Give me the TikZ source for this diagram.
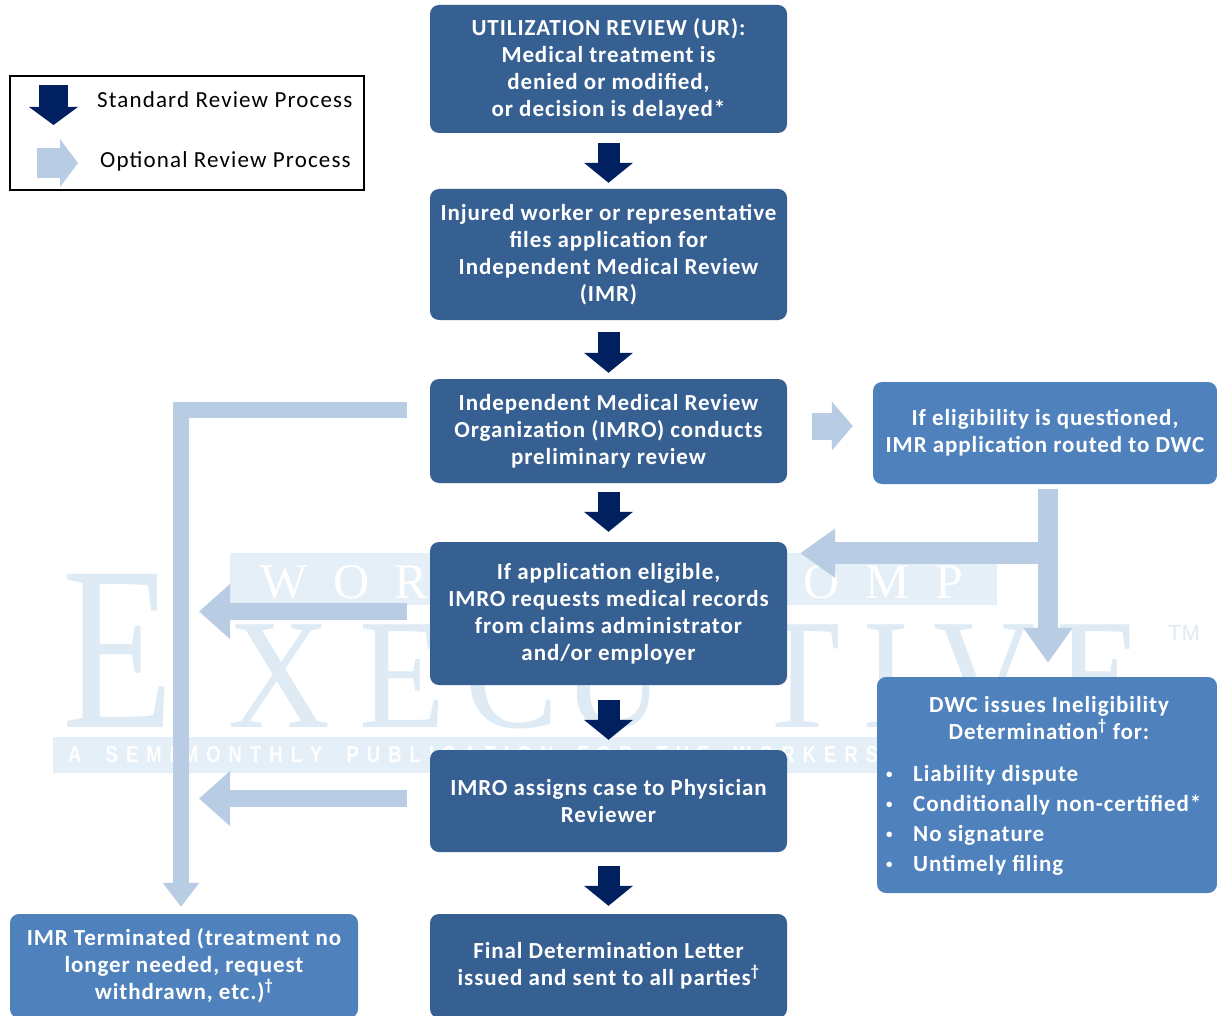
\documentclass[tikz,border=0pt]{standalone}
\usepackage{fontspec}
\setmainfont{Carlito}[LetterSpace=4]
\newfontfamily\legfont{Carlito}[LetterSpace=5]
\newfontfamily\wmserif{Liberation Serif}
\newfontfamily\wmsans{Liberation Sans}
\usetikzlibrary{arrows.meta,calc}
\definecolor{boxdark}{RGB}{54,95,146}
\definecolor{boxmid}{RGB}{79,129,189}
\definecolor{navyarr}{RGB}{0,32,96}
\definecolor{lightarr}{RGB}{184,204,228}
\definecolor{wmband}{RGB}{228,239,247}
\definecolor{wmletter}{RGB}{222,235,245}
\newcommand\dwcbullet{\raisebox{3pt}{\fontsize{13}{13}\selectfont\textbullet}}
\tikzset{
  box/.style={rounded corners=9pt, inner sep=0pt, align=center, text=white,
    font=\fontsize{23}{27}\selectfont\bfseries},
  darkbox/.style={box, fill=boxdark, minimum width=357pt},
  midbox/.style={box, fill=boxmid},
  stdarrow/.style={draw=navyarr, line width=22pt, -{Triangle[length=20pt,width=48pt]}},
  optarrow/.style={draw=lightarr},
  boxtext/.style={inner sep=0pt, text=white, font=\fontsize{23}{27}\selectfont\bfseries},
  wmbig/.style={anchor=base, inner sep=0pt, text=wmletter, xscale=0.9,
    font=\wmserif\fontsize{157}{157}\selectfont},
}
\begin{document}
\begin{tikzpicture}[x=1pt, y=-1pt]
\useasboundingbox (0,0) rectangle (1217,1016);
\fill[white] (0,0) rectangle (1217,1016);

% ---------- watermark ----------
\fill[wmband] (230,553) rectangle (997,605);
\node[anchor=base west, inner sep=0pt, text=white, font=\wmserif\fontsize{50}{50}\selectfont] (wmtop) at (260,598)
  {\makebox[703pt][s]{W\hfil O\hfil R\hfil K\hfil E\hfil R\hfil S\hfil '\hfil\hfil C\hfil O\hfil M\hfil P}};
\node[anchor=base, inner sep=0pt, text=wmletter, xscale=0.78, font=\wmserif\fontsize{234}{234}\selectfont] (wmE) at (118,727) {E};
\foreach \c/\x [count=\i] in {X/280,E/403,C/512,U/614,T/798,I/886,V/985,E/1100}
  \node[wmbig] (wmL\i) at (\x,727) {\c};
\node[anchor=base west, inner sep=0pt, text=wmletter, font=\wmsans\fontsize{22}{22}\selectfont] (wmtm) at (1168,640) {TM};
\fill[wmband] (53,737) rectangle (1207,773);
\node[anchor=base west, inner sep=0pt, text=white, xscale=0.8, font=\wmsans\bfseries\fontsize{23}{23}\selectfont] (wmbot) at (68,762)
  {\makebox[1399pt][s]{A\hfil\hfil\hfil S\hfil E\hfil M\hfil I\hfil M\hfil O\hfil N\hfil T\hfil H\hfil L\hfil Y\hfil\hfil\hfil
   P\hfil U\hfil B\hfil L\hfil I\hfil C\hfil A\hfil T\hfil I\hfil O\hfil N\hfil\hfil\hfil F\hfil O\hfil R\hfil\hfil\hfil
   T\hfil H\hfil E\hfil\hfil\hfil W\hfil O\hfil R\hfil K\hfil E\hfil R\hfil S\hfil '\hfil\hfil\hfil C\hfil O\hfil M\hfil P\hfil\hfil\hfil
   E\hfil X\hfil E\hfil C\hfil U\hfil T\hfil I\hfil V\hfil E}};

% ---------- boxes ----------
\node[darkbox, minimum height=128pt] (ur) at (608.5,69)
  {UTILIZATION REVIEW (UR):\\Medical treatment is\\denied or modified,\\or decision is delayed*};
\node[darkbox, minimum height=131pt] (app) at (608.5,254.5)
  {Injured worker or representative\\files application for\\Independent Medical Review\\(IMR)};
\node[darkbox, minimum height=104pt] (imro) at (608.5,431)
  {Independent Medical Review\\Organization (IMRO) conducts\\preliminary review};
\node[darkbox, minimum height=143pt] (rec) at (608.5,613.5)
  {If application eligible,\\IMRO requests medical records\\from claims administrator\\and/or employer};
\node[darkbox, minimum height=102pt] (phys) at (608.5,801)
  {IMRO assigns case to Physician\\Reviewer};
\node[darkbox, minimum height=104pt] (final) at (608.5,966)
  {Final Determination Letter\\issued and sent to all parties\textsuperscript{†}};
\node[midbox, minimum width=348pt, minimum height=104pt] (term) at (184,966)
  {IMR Terminated (treatment no\\longer needed, request\\withdrawn, etc.)\textsuperscript{†}};
\node[midbox, minimum width=344pt, minimum height=102pt] (elig) at (1045,433)
  {If eligibility is questioned,\\IMR application routed to DWC};
\node[midbox, minimum width=340pt, minimum height=216pt] (dwc) at (1047,785) {};
\node[boxtext, align=center] (dwchead) at (1049,718)
  {DWC issues Ineligibility\\Determination\textsuperscript{†} for:};
\foreach \t [count=\i] in {Liability dispute, Conditionally non-certified*, No signature, Untimely filing}
  \node[boxtext, anchor=base west] (dwcb\i) at (886,751+30*\i) {\makebox[27pt][l]{\dwcbullet}\t};

% ---------- optional (light) arrows ----------
\draw[optarrow, line width=27pt, -{Triangle[length=21pt,width=48pt]}, shorten <=25pt, shorten >=20pt]
  ([yshift=5pt]imro.east) -- ([yshift=5pt]imro.east -| elig.west);
\draw[optarrow, line width=20pt, -{Triangle[length=35pt,width=47pt]}, shorten <=5pt, shorten >=14pt]
  ([xshift=3pt]elig.south) -- ([xshift=3pt]elig.south |- dwc.north);
\coordinate (jn) at ([xshift=3pt,yshift=-69pt]elig.south);
\draw[optarrow, line width=22pt, -{Triangle[length=35pt,width=47pt]}, shorten >=13pt]
  (jn) -- (jn -| rec.east);
\coordinate (lc) at (181,410);
\draw[optarrow, line width=16pt, -{Triangle[length=24pt,width=35pt]}, shorten <=23pt, shorten >=7pt]
  ([yshift=21pt]imro.west) -- (lc) -- (lc |- term.north);
\draw[optarrow, line width=17pt, -{Triangle[length=31pt,width=53pt]}, shorten <=23pt, shorten >=18pt]
  ([yshift=2pt]rec.west) -- ([yshift=2pt]rec.west -| lc);
\draw[optarrow, line width=17pt, -{Triangle[length=31pt,width=53pt]}, shorten <=23pt, shorten >=18pt]
  ([yshift=2.5pt]phys.west) -- ([yshift=2.5pt]phys.west -| lc);

% ---------- standard (dark) arrows ----------
\draw[stdarrow, shorten <=10pt, shorten >=6pt] (ur) -- (app);
\draw[stdarrow, shorten <=12pt, shorten >=6pt] (app) -- (imro);
\draw[stdarrow, shorten <=9pt, shorten >=10pt] (imro) -- (rec);
\draw[stdarrow, shorten <=15pt, shorten >=10pt] (rec) -- (phys);
\draw[stdarrow, shorten <=14pt, shorten >=8pt] (phys) -- (final);

% ---------- legend ----------
\node[draw=black, line width=1.5pt, minimum width=354pt, minimum height=114pt, inner sep=0pt] (legend) at (187,133) {};
\coordinate (ls1) at (53.5,85);
\coordinate (ls2) at (53.5,125);
\draw[draw=navyarr, line width=29pt, -{Triangle[length=18pt,width=48pt]}] (ls1) -- (ls2);
\coordinate (lo1) at (37,163);
\coordinate (lo2) at (78,163);
\draw[optarrow, line width=30pt, -{Triangle[length=18pt,width=47pt]}] (lo1) -- (lo2);
\node[anchor=base west, inner sep=0pt, font=\legfont\fontsize{23}{27}\selectfont] (legstd) at (97,108) {Standard Review Process};
\node[anchor=base west, inner sep=0pt, font=\legfont\fontsize{23}{27}\selectfont] (legopt) at (100,168) {Optional Review Process};
\end{tikzpicture}
\end{document}
